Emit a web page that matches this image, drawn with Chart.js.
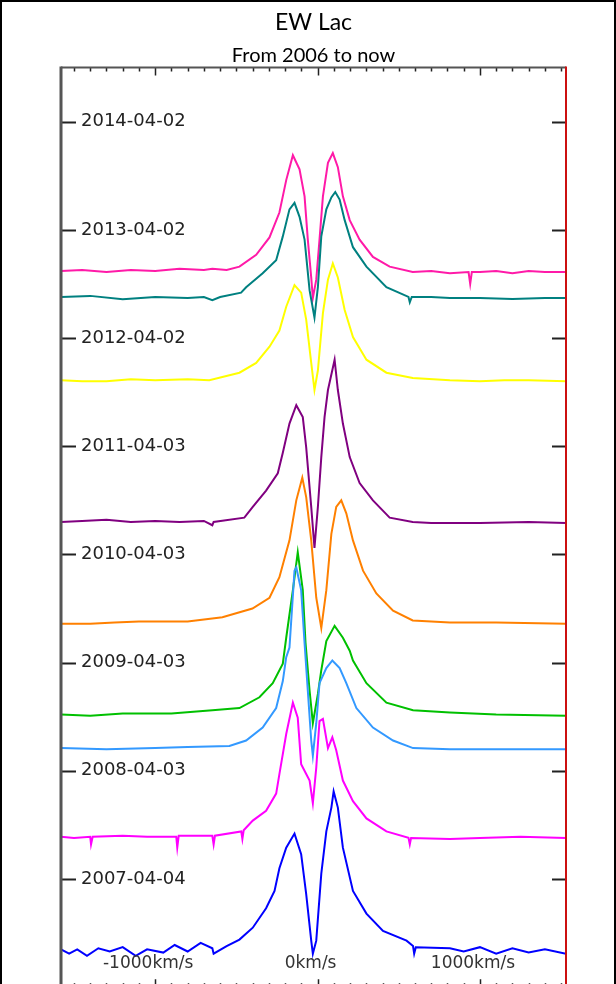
<!DOCTYPE html>
<html>
<head>
<meta charset="utf-8">
<script src="https://cdn.jsdelivr.net/npm/chart.js@4.4.1/dist/chart.umd.min.js"></script>
<style>
  html, body { margin: 0; padding: 0; background: #fff; overflow: hidden; }
  #frame { position: relative; width: 616px; height: 984px; box-sizing: border-box;
           border: 2px solid #000; border-bottom: none; overflow: hidden; }
  #spectra { display: block; }
</style>
</head>
<body>
<div id="frame"><canvas id="spectra" width="612" height="1016"></canvas></div>
<script>
// y axis: one unit per yearly tick, 0 = 2007-04-04
const dateTicks = [0, 1, 2, 3, 4, 5, 6, 7];
const dateLabels = ['2007-04-04', '2008-04-03', '2009-04-03', '2010-04-03',
                    '2011-04-03', '2012-04-02', '2013-04-02', '2014-04-02'];
const velLabels = [-1000, 0, 1000];

// each spectrum: [velocity km/s, offset position on the date axis]
const ew2014 = [[-1580,5.62],[-1450,5.63],[-1300,5.61],[-1150,5.63],[-1000,5.62],[-850,5.64],[-700,5.63],
  [-648,5.64],[-560,5.63],[-481,5.66],[-378,5.77],[-296,5.93],[-235,6.16],[-193,6.46],[-152,6.69],[-111,6.56],
  [-80,6.31],[-60,5.91],[-39,5.56],[-29,5.37],[-8,5.54],[12,5.91],[33,6.31],[64,6.62],[94,6.71],[125,6.58],
  [156,6.31],[198,6.09],[259,5.91],[341,5.75],[444,5.66],[586,5.61],[700,5.62],[815,5.60],[930,5.61],[940,5.50],
  [950,5.61],[1000,5.61],[1100,5.62],[1200,5.60],[1300,5.62],[1400,5.61],[1530,5.61]];
const ew2013 = [[-1580,5.38],[-1400,5.39],[-1200,5.36],[-1000,5.38],[-800,5.37],[-700,5.38],[-648,5.35],
  [-600,5.38],[-471,5.42],[-440,5.47],[-338,5.60],[-255,5.72],[-214,5.94],[-173,6.19],[-142,6.25],[-111,6.12],
  [-80,5.91],[-49,5.44],[-19,5.19],[2,5.47],[23,5.94],[54,6.19],[85,6.30],[109,6.35],[136,6.28],[167,6.09],
  [218,5.84],[301,5.66],[424,5.47],[560,5.38],[568,5.33],[580,5.38],[700,5.38],[815,5.37],[1000,5.37],
  [1200,5.36],[1400,5.37],[1530,5.37]];
const ew2012 = [[-1580,4.61],[-1450,4.60],[-1300,4.60],[-1150,4.62],[-1000,4.61],[-800,4.62],[-667,4.61],
  [-481,4.68],[-378,4.77],[-296,4.92],[-235,5.07],[-193,5.29],[-142,5.49],[-101,5.42],[-70,5.17],[-39,4.77],
  [-19,4.52],[2,4.70],[33,5.23],[64,5.54],[94,5.69],[125,5.56],[167,5.26],[218,5.01],[301,4.80],[424,4.68],
  [586,4.63],[815,4.61],[1000,4.60],[1150,4.61],[1300,4.61],[1530,4.60]];
const ew2011 = [[-1580,3.30],[-1450,3.31],[-1300,3.32],[-1150,3.30],[-1000,3.31],[-850,3.30],[-700,3.31],
  [-648,3.27],[-640,3.30],[-451,3.34],[-399,3.44],[-317,3.59],[-245,3.75],[-214,3.94],[-173,4.21],[-131,4.38],
  [-91,4.27],[-70,3.99],[-39,3.44],[-19,3.06],[2,3.44],[23,3.90],[43,4.27],[64,4.52],[105,4.80],[125,4.52],
  [156,4.21],[198,3.90],[259,3.66],[341,3.50],[444,3.34],[586,3.30],[700,3.29],[815,3.29],[1000,3.29],
  [1300,3.30],[1530,3.29]];
const ew2010 = [[-1580,2.36],[-1400,2.36],[-1250,2.37],[-1100,2.38],[-800,2.38],[-586,2.42],[-401,2.50],
  [-296,2.60],[-235,2.79],[-173,3.13],[-131,3.50],[-94,3.71],[-70,3.53],[-39,3.13],[-8,2.60],[23,2.32],
  [54,2.67],[85,3.19],[115,3.44],[146,3.50],[177,3.38],[218,3.13],[280,2.85],[362,2.64],[465,2.48],
  [586,2.39],[815,2.37],[1100,2.37],[1530,2.36]];
const ew2009 = [[-1580,1.52],[-1400,1.51],[-1200,1.53],[-900,1.53],[-648,1.56],[-481,1.58],[-358,1.68],
  [-276,1.81],[-214,1.99],[-193,2.23],[-152,2.67],[-122,3.02],[-91,2.67],[-74,2.18],[-49,1.74],[-29,1.44],
  [2,1.71],[23,1.93],[54,2.20],[105,2.34],[156,2.23],[198,2.11],[218,2.02],[301,1.81],[424,1.63],[588,1.56],
  [815,1.54],[1100,1.52],[1530,1.51]];
const ew2008b = [[-1580,1.21],[-1300,1.20],[-1000,1.21],[-800,1.22],[-543,1.23],[-440,1.28],[-338,1.40],
  [-255,1.58],[-214,1.83],[-193,2.05],[-173,2.14],[-142,2.85],[-131,2.88],[-101,2.67],[-80,2.18],[-60,1.74],
  [-39,1.28],[-29,1.14],[-8,1.44],[12,1.81],[54,1.95],[91,2.02],[136,1.95],[177,1.81],[239,1.58],[341,1.40],
  [465,1.28],[588,1.21],[815,1.20],[1100,1.20],[1530,1.20]];
const ew2008a = [[-1580,0.39],[-1500,0.38],[-1400,0.39],[-1395,0.32],[-1385,0.39],[-1200,0.40],[-1050,0.39],
  [-870,0.39],[-864,0.29],[-855,0.40],[-648,0.40],[-640,0.32],[-632,0.40],[-470,0.44],[-463,0.37],[-455,0.45],
  [-399,0.54],[-317,0.63],[-255,0.79],[-235,0.97],[-193,1.34],[-152,1.63],[-122,1.49],[-101,1.06],[-70,0.97],
  [-49,0.91],[-29,0.70],[-8,1.03],[12,1.46],[33,1.48],[64,1.21],[91,1.31],[115,1.19],[156,0.91],[218,0.72],
  [301,0.56],[424,0.44],[560,0.38],[568,0.32],[576,0.38],[815,0.37],[1000,0.38],[1250,0.39],[1530,0.38]];
const ew2007 = [[-1580,-0.65],[-1530,-0.69],[-1480,-0.65],[-1420,-0.71],[-1350,-0.64],[-1280,-0.67],
  [-1200,-0.63],[-1120,-0.71],[-1050,-0.65],[-950,-0.68],[-880,-0.61],[-800,-0.67],[-720,-0.59],[-648,-0.64],
  [-640,-0.69],[-560,-0.62],[-481,-0.56],[-399,-0.45],[-317,-0.27],[-265,-0.11],[-235,0.10],[-193,0.29],
  [-142,0.42],[-101,0.23],[-70,-0.14],[-39,-0.57],[-29,-0.69],[-8,-0.57],[23,0.05],[54,0.44],[85,0.66],
  [99,0.81],[125,0.66],[156,0.29],[218,-0.11],[301,-0.32],[403,-0.48],[548,-0.57],[588,-0.62],[595,-0.69],
  [605,-0.63],[815,-0.64],[900,-0.67],[1000,-0.63],[1100,-0.69],[1200,-0.64],[1300,-0.68],[1400,-0.65],[1530,-0.69]];

const spectra = [ew2007, ew2008a, ew2008b, ew2009, ew2010, ew2011, ew2012, ew2013, ew2014];
const spectraColors = ['#0000ff', '#ff00ff', '#3399ff', '#00c000', '#ff8000', '#800080', '#ffff00', '#008080', '#ff1aa8'];

const frameAndTicks = {
  id: 'frameAndTicks',
  afterDraw(chart) {
    const { ctx, chartArea: a, scales: { x, y } } = chart;
    ctx.save();
    ctx.strokeStyle = '#222';
    ctx.lineWidth = 2;
    // date ticks, inside on both sides
    dateTicks.forEach(v => {
      const py = Math.round(y.getPixelForValue(v)) + 0.5;
      ctx.beginPath();
      ctx.moveTo(a.left, py); ctx.lineTo(a.left + 15, py);
      ctx.moveTo(a.right - 14, py); ctx.lineTo(a.right, py);
      ctx.stroke();
    });
    // velocity ticks every 100 km/s on top and bottom
    ctx.lineWidth = 1.5;
    for (let v = -1500; v <= 1500; v += 100) {
      const px = Math.round(x.getPixelForValue(v)) + 0.5;
      const len = v % 1000 === 0 ? 8 : 4;
      ctx.beginPath();
      ctx.moveTo(px, a.top); ctx.lineTo(px, a.top + len);
      ctx.moveTo(px, a.bottom); ctx.lineTo(px, a.bottom - len);
      ctx.stroke();
    }
    // frame
    ctx.strokeStyle = '#555';
    ctx.lineWidth = 2;
    ctx.beginPath(); ctx.moveTo(a.left, a.top); ctx.lineTo(a.right, a.top); ctx.stroke();
    ctx.lineWidth = 3;
    ctx.beginPath(); ctx.moveTo(a.left, a.top - 1); ctx.lineTo(a.left, a.bottom + 2); ctx.stroke();
    ctx.strokeStyle = '#cc1010';
    ctx.lineWidth = 2;
    ctx.beginPath(); ctx.moveTo(a.right, a.top - 1); ctx.lineTo(a.right, a.bottom + 2); ctx.stroke();
    // velocity labels, inside the plot
    ctx.fillStyle = '#333';
    ctx.font = '17px "DejaVu Sans"';
    ctx.textAlign = 'center';
    ctx.textBaseline = 'middle';
    velLabels.forEach(v => {
      ctx.fillText(v + 'km/s', x.getPixelForValue(v) - 7, a.bottom - 24);
    });
    ctx.restore();
  }
};

new Chart(document.getElementById('spectra'), {
  type: 'line',
  data: {
    datasets: spectra.map((s, i) => ({
      data: s.map(p => ({ x: p[0], y: p[1] })),
      borderColor: spectraColors[i],
      borderWidth: 2,
      pointRadius: 0,
      tension: 0,
      fill: false
    }))
  },
  options: {
    responsive: false,
    animation: false,
    events: [],
    layout: { padding: { left: 11, right: 48, top: 0, bottom: 0 } },
    plugins: {
      legend: { display: false },
      tooltip: { enabled: false },
      title: {
        display: true, text: 'EW Lac', color: '#000', fullSize: false,
        font: { family: 'Lato', size: 23, weight: 'normal' },
        padding: { top: 7, bottom: 7 }
      },
      subtitle: {
        display: true, text: 'From 2006 to now', color: '#000', fullSize: false,
        font: { family: 'Lato', size: 20, weight: 'normal' },
        padding: { top: 0, bottom: 0 }
      }
    },
    scales: {
      x: { type: 'linear', min: -1580, max: 1530, display: false },
      y: {
        type: 'linear', min: -1, max: 7.5, position: 'left',
        grid: { display: false },
        border: { display: false },
        afterBuildTicks: axis => { axis.ticks = dateTicks.map(v => ({ value: v })); },
        ticks: {
          mirror: true, padding: 20, color: '#222',
          font: { family: 'DejaVu Sans', size: 18 },
          callback: v => dateLabels[v]
        }
      }
    }
  },
  plugins: [frameAndTicks]
});
</script>
</body>
</html>
